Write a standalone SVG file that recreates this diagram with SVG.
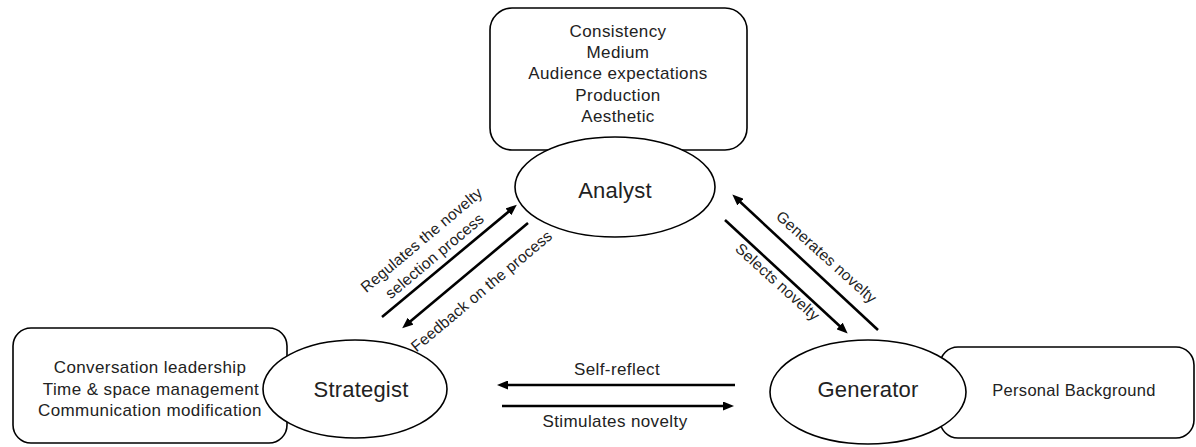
<svg xmlns="http://www.w3.org/2000/svg" width="1196" height="447" viewBox="0 0 1196 447">
<style>
.box{fill:#fff;stroke:#000;stroke-width:1.6}
.ell{fill:#fff;stroke:#000;stroke-width:1.6}
.t{font-family:"Liberation Sans",Arial,sans-serif;fill:#222;text-anchor:middle}
.item{font-size:17px;letter-spacing:0.4px}
.name{font-size:22px;letter-spacing:0.2px}
.lbl{font-size:15.5px;letter-spacing:0.2px}
.arr{stroke:#000;stroke-width:2.6;fill:none;marker-end:url(#ah)}
</style>
<defs>
<marker id="ah" markerUnits="userSpaceOnUse" markerWidth="11" markerHeight="9" refX="6" refY="4.5" orient="auto">
<path d="M0,0 L11,4.5 L0,9 z" fill="#000"/>
</marker>
</defs>
<g id="analyst">
<rect class="box" x="490" y="8" width="257" height="142" rx="22"/>
<text class="t item" x="618" y="37">Consistency</text>
<text class="t item" x="618" y="58">Medium</text>
<text class="t item" x="618" y="79">Audience expectations</text>
<text class="t item" x="618" y="101">Production</text>
<text class="t item" x="618" y="122">Aesthetic</text>
<ellipse class="ell" cx="615" cy="187" rx="100" ry="50"/>
<text class="t name" x="615" y="198">Analyst</text>
</g>
<g id="strategist">
<rect class="box" x="13" y="328" width="274" height="115" rx="18"/>
<text class="t item" x="150" y="373">Conversation leadership</text>
<text class="t item" x="151" y="395">Time &amp; space management</text>
<text class="t item" x="150" y="416">Communication modification</text>
<ellipse class="ell" cx="355" cy="389" rx="92" ry="49"/>
<text class="t name" x="361" y="397">Strategist</text>
</g>
<g id="generator">
<rect class="box" x="940" y="347" width="254" height="91" rx="18"/>
<text class="t item" x="1074" y="396" style="font-size:16.5px;letter-spacing:0.3px">Personal Background</text>
<ellipse class="ell" cx="868" cy="392" rx="98" ry="52"/>
<text class="t name" x="868" y="397">Generator</text>
</g>
<g id="connectors">
<line class="arr" x1="382" y1="317" x2="513" y2="208"/>
<line class="arr" x1="528" y1="223" x2="406" y2="325"/>
<line class="arr" x1="878" y1="330" x2="736" y2="198"/>
<line class="arr" x1="725" y1="220" x2="844" y2="330"/>
<line class="arr" x1="735" y1="385" x2="502" y2="385"/>
<line class="arr" x1="502" y1="406" x2="729" y2="406"/>
<text class="t lbl" transform="translate(425,244) rotate(-40)">Regulates the novelty</text>
<text class="t lbl" transform="translate(438,260) rotate(-40)">selection process</text>
<text class="t lbl" transform="translate(485,295) rotate(-40)">Feedback on the process</text>
<text class="t lbl" transform="translate(823,261) rotate(42)">Generates novelty</text>
<text class="t lbl" transform="translate(774,286) rotate(42)">Selects novelty</text>
<text class="t item" x="617" y="375">Self-reflect</text>
<text class="t item" x="615" y="427">Stimulates novelty</text>
</g>
</svg>
